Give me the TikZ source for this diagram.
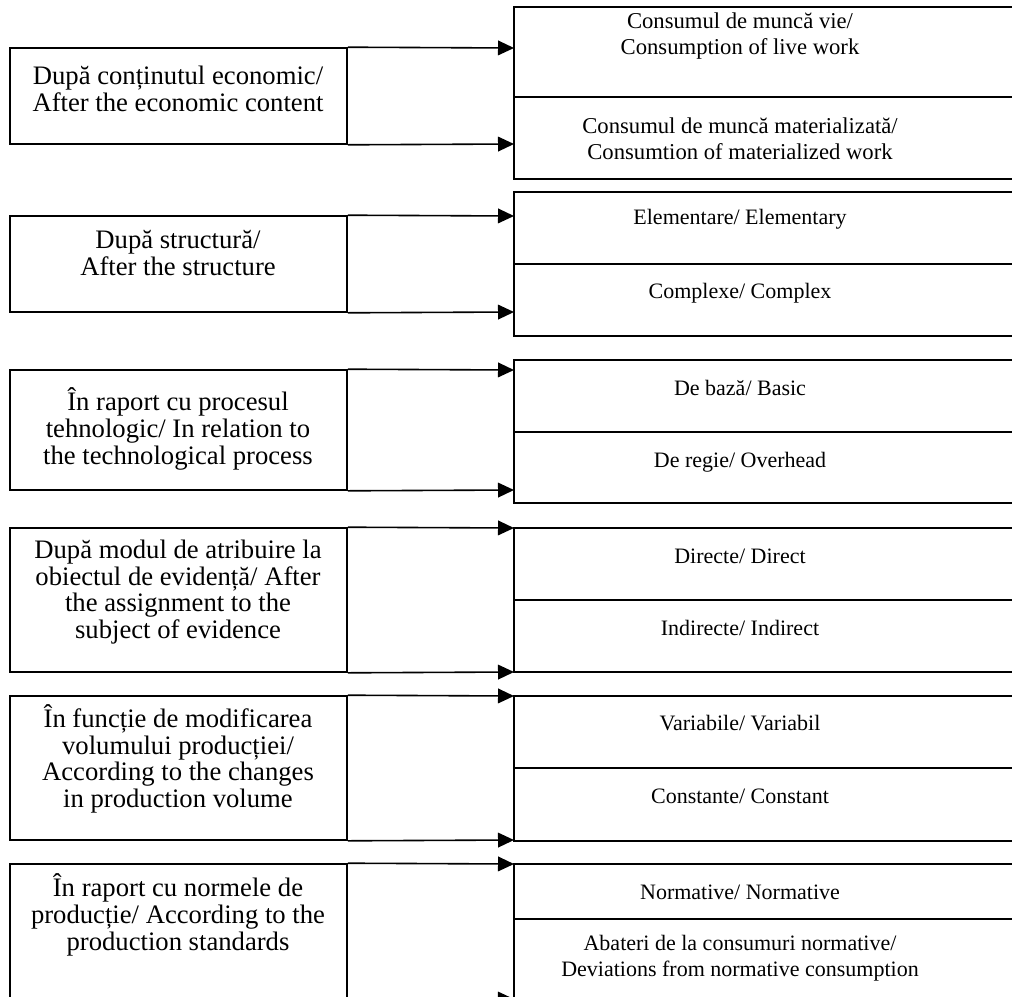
\documentclass[tikz,border=0pt]{standalone}
\usepackage{fontspec}
\setmainfont{Liberation Serif}
\usetikzlibrary{arrows.meta,fit}
\begin{document}
\begin{tikzpicture}[x=0.75pt,y=-0.75pt,
  frame/.style={draw, line width=1.2pt, inner sep=0pt},
  lbl/.style={align=center, inner sep=0pt, font=\fontsize{16.5}{19.5}\selectfont},
  lblwide/.style={lbl, font=\fontsize{17}{19.5}\selectfont},
  crit/.style={align=center, inner sep=0pt, font=\fontsize{20}{20}\selectfont},
  link/.style={line width=1.2pt, -{Triangle[length=12pt,width=11pt]}}]
\useasboundingbox (0,0) rectangle (1012,996);
\clip (0,0) rectangle (1012,996);

% criteria (left column)
\node[frame, fit={(10,48) (347,144)}]  (L1) {};
\node[frame, fit={(10,216) (347,312)}] (L2) {};
\node[frame, fit={(10,370) (347,490)}] (L3) {};
\node[frame, fit={(10,528) (347,672)}] (L4) {};
\node[frame, fit={(10,696) (347,840)}] (L5) {};
\node[frame, fit={(10,864) (347,999)}] (L6) {};

% categories (right column, two per criterion)
\node[frame, fit={(514,7) (1030,97)}]    (R1a) {};
\node[frame, fit={(514,97) (1030,179)}]  (R1b) {};
\node[frame, fit={(514,192) (1030,264)}] (R2a) {};
\node[frame, fit={(514,264) (1030,336)}] (R2b) {};
\node[frame, fit={(514,360) (1030,432)}] (R3a) {};
\node[frame, fit={(514,432) (1030,503)}] (R3b) {};
\node[frame, fit={(514,528) (1030,600)}] (R4a) {};
\node[frame, fit={(514,600) (1030,672)}] (R4b) {};
\node[frame, fit={(514,696) (1030,768)}] (R5a) {};
\node[frame, fit={(514,768) (1030,841)}] (R5b) {};
\node[frame, fit={(514,864) (1030,919)}] (R6a) {};
\node[frame, fit={(514,919) (1030,1010)}] (R6b) {};

% arrow end points on the right column
\coordinate (e1a) at (514,48);  \coordinate (e1b) at (514,144);
\coordinate (e2a) at (514,216); \coordinate (e2b) at (514,312);
\coordinate (e3a) at (514,370); \coordinate (e3b) at (514,490);
\coordinate (e4a) at (514,528); \coordinate (e4b) at (514,672);
\coordinate (e5a) at (514,696); \coordinate (e5b) at (514,840);
\coordinate (e6a) at (514,864); \coordinate (e6b) at (514,999);

\draw[link] (L1.north east) -- (e1a);
\draw[link] (L1.south east) -- (e1b);
\draw[link] (L2.north east) -- (e2a);
\draw[link] (L2.south east) -- (e2b);
\draw[link] (L3.north east) -- (e3a);
\draw[link] (L3.south east) -- (e3b);
\draw[link] (L4.north east) -- (e4a);
\draw[link] (L4.south east) -- (e4b);
\draw[link] (L5.north east) -- (e5a);
\draw[link] (L5.south east) -- (e5b);
\draw[link] (L6.north east) -- (e6a);
\draw[link] (L6.south east) -- (e6b);

% left texts
\node[crit] (t1) at (178,89)  {După conținutul economic/\\After the economic content};
\node[crit] (t2) at (178,253) {După structură/\\After the structure};
\node[crit] (t3) at (178,429) {În raport cu procesul\\tehnologic/ In relation to\\the technological process};
\node[crit] (t4) at (178,592) {După modul de atribuire la\\obiectul de evidență/ After\\the assignment to the\\subject of evidence};
\node[crit] (t5) at (178,759) {În funcție de modificarea\\volumului producției/\\According to the changes\\in production volume};
\node[crit] (t6) at (178,915) {În raport cu normele de\\producție/ According to the\\production standards};

% right texts
\node[lblwide] (u1a) at (740,36)  {Consumul de muncă vie/\\Consumption of live work};
\node[lblwide] (u1b) at (740,139) {Consumul de muncă materializată/\\Consumtion of materialized work};
\node[lbl] (u2a) at (740,219) {Elementare/ Elementary};
\node[lbl] (u2b) at (740,293) {Complexe/ Complex};
\node[lbl] (u3a) at (740,388) {De bază/ Basic};
\node[lbl] (u3b) at (740,462) {De regie/ Overhead};
\node[lbl] (u4a) at (740,556) {Directe/ Direct};
\node[lbl] (u4b) at (740,628) {Indirecte/ Indirect};
\node[lbl] (u5a) at (740,723) {Variabile/ Variabil};
\node[lbl] (u5b) at (740,796) {Constante/ Constant};
\node[lbl] (u6a) at (740,892) {Normative/ Normative};
\node[lbl] (u6b) at (740,958) {Abateri de la consumuri normative/\\Deviations from normative consumption};
\end{tikzpicture}
\end{document}
